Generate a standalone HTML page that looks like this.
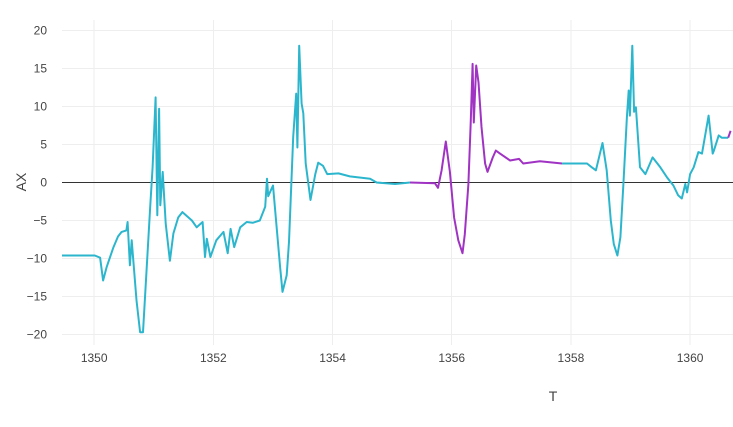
<!DOCTYPE html>
<html><head><meta charset="utf-8"><style>
html,body{margin:0;padding:0;background:#fff;}
svg{display:block;font-family:"Liberation Sans",sans-serif;}
</style></head><body>
<svg id="chart" width="733" height="427" viewBox="0 0 733 427">
<g id="grid"></g>
<line id="zero" x1="62" x2="733" y1="182.5" y2="182.5" stroke="#333" stroke-width="1" shape-rendering="crispEdges"></line>
<g id="yticks"></g>
<g id="xticks"></g>
<g id="lines"></g>
<text x="0" y="0" transform="translate(26,182) rotate(-90)" text-anchor="middle" font-size="14" fill="#444">AX</text>
<text x="553" y="401" text-anchor="middle" font-size="14" fill="#444">T</text>
</svg>
<script>
const xTicks=[1350,1352,1354,1356,1358,1360];
const yTicks=[-20,-15,-10,-5,0,5,10,15,20];
const tVals=[1349.46,1350.01,1350.10,1350.15,1350.21,1350.32,1350.40,1350.46,1350.54,1350.56,1350.60,1350.63,1350.71,1350.77,1350.82,1350.94,1350.98,1351.03,1351.06,1351.09,1351.11,1351.15,1351.20,1351.27,1351.33,1351.41,1351.48,1351.64,1351.72,1351.82,1351.86,1351.89,1351.95,1352.05,1352.17,1352.24,1352.29,1352.35,1352.45,1352.56,1352.66,1352.78,1352.87,1352.90,1352.92,1353.00,1353.12,1353.16,1353.23,1353.27,1353.34,1353.39,1353.41,1353.44,1353.48,1353.51,1353.55,1353.63,1353.71,1353.76,1353.84,1353.91,1354.10,1354.29,1354.63,1354.74,1355.05,
1355.30,1355.72,1355.77,1355.83,1355.90,1355.97,1356.04,1356.11,1356.18,1356.22,1356.28,1356.32,1356.35,1356.37,1356.41,1356.45,1356.50,1356.56,1356.60,1356.69,1356.74,1356.81,1356.98,1357.13,1357.20,1357.48,1357.85,
1358.27,1358.35,1358.42,1358.53,1358.60,1358.67,1358.72,1358.78,1358.83,1358.88,1358.94,1358.97,1358.99,1359.03,1359.06,1359.09,1359.16,1359.25,1359.37,1359.50,1359.61,1359.72,1359.80,1359.86,1359.92,1359.95,1360.00,1360.06,1360.14,1360.20,1360.31,1360.38,1360.40,1360.48,1360.53,1360.64,1360.68,1360.72];
const axVals=[-9.6,-9.6,-9.9,-12.9,-11.1,-8.6,-7.1,-6.5,-6.3,-5.2,-10.9,-7.6,-15.5,-19.7,-19.7,-3.2,2.0,11.2,-4.3,9.7,-3.0,1.4,-5.4,-10.3,-6.7,-4.6,-3.9,-5.0,-5.9,-5.2,-9.8,-7.4,-9.8,-7.6,-6.5,-9.3,-6.1,-8.5,-5.9,-5.2,-5.3,-5.0,-3.2,0.5,-1.8,-0.4,-11.1,-14.4,-12.2,-7.8,6.0,11.7,4.6,18.0,10.4,9.1,2.5,-2.3,1.1,2.6,2.2,1.1,1.2,0.8,0.5,0.0,-0.2,
0.0,-0.1,-0.7,1.6,5.4,1.4,-4.6,-7.6,-9.3,-6.8,-0.2,8.2,15.6,7.9,15.4,13.2,7.3,2.5,1.4,3.3,4.2,3.8,2.9,3.1,2.5,2.8,2.5,
2.5,2.0,1.6,5.2,1.6,-5.0,-8.1,-9.6,-7.2,-0.2,8.6,12.1,8.8,18.0,9.3,9.9,2.0,1.1,3.3,2.0,0.7,-0.4,-1.7,-2.1,-0.2,-1.3,1.1,2.0,4.0,3.8,8.8,3.8,4.2,6.2,5.9,5.9,6.8];
const group=[0,0,0,0,0,0,0,0,0,0,0,0,0,0,0,0,0,0,0,0,0,0,0,0,0,0,0,0,0,0,0,0,0,0,0,0,0,0,0,0,0,0,0,0,0,0,0,0,0,0,0,0,0,0,0,0,0,0,0,0,0,0,0,0,0,0,0,
1,1,1,1,1,1,1,1,1,1,1,1,1,1,1,1,1,1,1,1,1,1,1,1,1,1,
0,0,0,0,0,0,0,0,0,0,0,0,0,0,0,0,0,0,0,0,0,0,0,0,0,0,0,0,0,0,0,0,0,0,0,0,1];
const colors=["#2cb6cd","#a033c3"];
const X0=62,X1=733,T0=1349.46,T1=1360.72;
const xs=t=>X0+(t-T0)/(T1-T0)*(X1-X0);
const ys=v=>182.5-v*7.6;
const NS="http://www.w3.org/2000/svg";
function mk(tag,attrs,parent){const e=document.createElementNS(NS,tag);for(const k in attrs)e.setAttribute(k,attrs[k]);parent.appendChild(e);return e;}
const grid=document.getElementById('grid'),yt=document.getElementById('yticks'),xt=document.getElementById('xticks'),lines=document.getElementById('lines');
xTicks.forEach(t=>{
  const l=mk('line',{x1:xs(t),x2:xs(t),y1:20,y2:345,stroke:'#eee','stroke-width':1,'shape-rendering':'crispEdges'},grid);
  
  
  const tx=mk('text',{x:xs(t),y:362,'text-anchor':'middle','font-size':12,fill:'#444'},xt);
  tx.textContent=t;
  
  
});
yTicks.forEach(v=>{
  if(v!==0){
    const l=mk('line',{x1:X0,x2:X1,y1:ys(v),y2:ys(v),stroke:'#eee','stroke-width':1,'shape-rendering':'crispEdges'},grid);
    
    
  }
  const tx=mk('text',{x:47,y:ys(v)+4,'text-anchor':'end','font-size':12,fill:'#444'},yt);
  tx.textContent=v<0?'\u2212'+(-v):v;
  
  
});
let start=0;
for(let i=1;i<=tVals.length;i++){
  if(i===tVals.length||group[i]!==group[start]){
    const end=Math.min(i,tVals.length-1);
    const pts=[];
    for(let j=start;j<=end;j++)pts.push(xs(tVals[j]).toFixed(1)+','+ys(axVals[j]).toFixed(1));
    const p=mk('polyline',{points:pts.join(' '),fill:'none',stroke:colors[group[start]],'stroke-width':2,'stroke-linejoin':'round'},lines);
    
    
    start=i;
  }
}
</script>
</body></html>
